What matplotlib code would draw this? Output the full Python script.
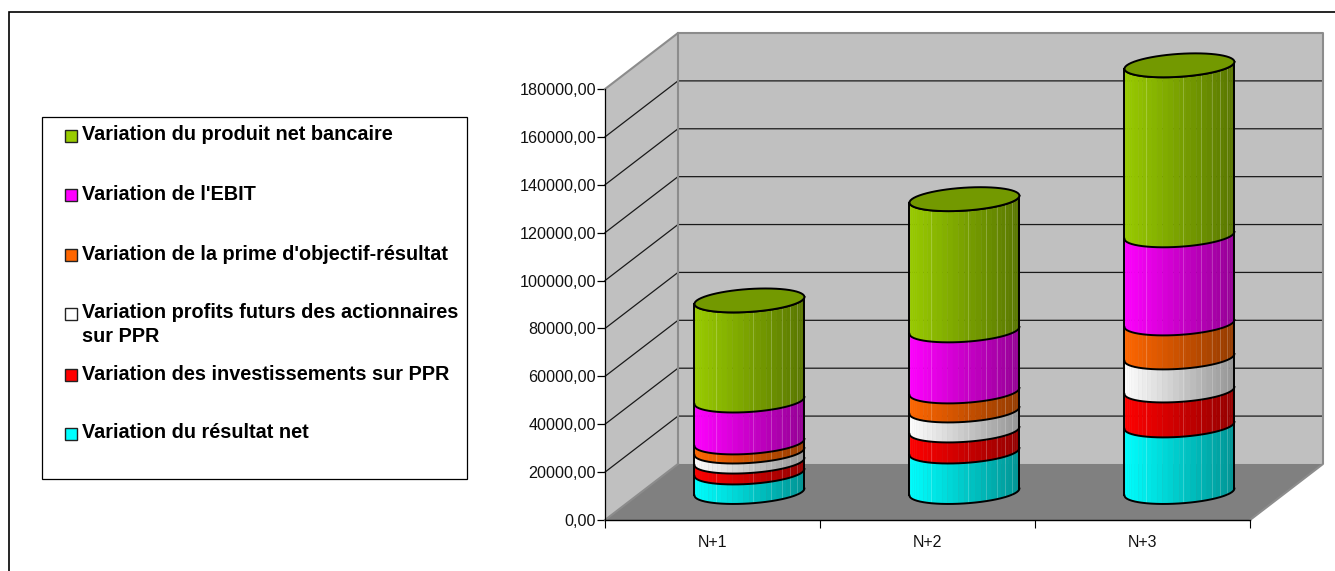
#!/usr/bin/env python3
import numpy as np
import matplotlib
matplotlib.use('Agg')
import matplotlib.pyplot as plt
from matplotlib.patches import Polygon, Rectangle
from matplotlib.ticker import FuncFormatter

plt.rcParams['font.family'] = ['Liberation Sans', 'DejaVu Sans']

categories = ['N+1', 'N+2', 'N+3']
resultat_net = [8150, 16900, 27800]
investissements = [4550, 8800, 14600]
profits_futurs = [4200, 8350, 13800]
prime_objectif = [3800, 7950, 14200]
ebit = [17500, 25500, 36800]
produit_bancaire = [41800, 54800, 71000]
y_ticks = [0, 20000, 40000, 60000, 80000, 100000, 120000, 140000, 160000, 180000]

series = [
    (resultat_net, '#00ffff'),
    (investissements, '#ff0000'),
    (profits_futurs, '#ffffff'),
    (prime_objectif, '#ff6600'),
    (ebit, '#ff00ff'),
    (produit_bancaire, '#99cc00'),
]

legend_labels = [
    "Variation du produit net bancaire",
    "Variation de l'EBIT",
    "Variation de la prime d'objectif-résultat",
    "Variation profits futurs des actionnaires\nsur PPR",
    "Variation des investissements sur PPR",
    "Variation du résultat net",
]
legend_colors = ['#99cc00', '#ff00ff', '#ff6600', '#ffffff', '#ff0000', '#00ffff']
legend_rows = [135, 194, 254, 313, 374, 433]

W, H = 1335, 571
DEPTH_X = 73 / 215
DEPTH_Y = 23400
TOP = 180000

# cylinder ellipse, sheared along the floor depth
RX = 52.6 / 215
SHEAR = 16 / 215
RY = 5000
T0 = np.arctan(SHEAR / RX)


def ring(cx, v, t):
    return cx + RX * np.cos(t) + SHEAR * np.sin(t), v + RY * np.sin(t)


def shade(color, k):
    return tuple(c * k for c in matplotlib.colors.to_rgb(color))


fig = plt.figure(figsize=(W / 100, H / 100), dpi=100)
ax = fig.add_axes([605 / W, 1 - 520 / H, (1323 - 605) / W, (520 - 33) / H])
ax.set_xlim(0, 3 + DEPTH_X)
ax.set_ylim(0, TOP + DEPTH_Y)
ax.patch.set_visible(False)

# walls and floor
ax.add_patch(Polygon([(0, 0), (DEPTH_X, DEPTH_Y), (DEPTH_X, TOP + DEPTH_Y), (0, TOP)],
                     fc='#c0c0c0', ec='none', zorder=1))
ax.add_patch(Rectangle((DEPTH_X, DEPTH_Y), 3, TOP, fc='#c0c0c0', ec='none', zorder=1))
ax.add_patch(Polygon([(0, 0), (3, 0), (3 + DEPTH_X, DEPTH_Y), (DEPTH_X, DEPTH_Y)],
                     fc='#808080', ec='none', zorder=1))

for v in y_ticks[1:-1]:
    ax.plot([0, DEPTH_X, 3 + DEPTH_X], [v, v + DEPTH_Y, v + DEPTH_Y],
            color='#1a1a1a', lw=0.9, zorder=2, clip_on=False)

edge = dict(color='#8c8c8c', lw=1.5, zorder=2, clip_on=False)
ax.plot([0, DEPTH_X, 3 + DEPTH_X, 3 + DEPTH_X, 3],
        [TOP, TOP + DEPTH_Y, TOP + DEPTH_Y, DEPTH_Y, 0], **edge)
ax.plot([DEPTH_X, DEPTH_X], [DEPTH_Y, TOP + DEPTH_Y], **edge)
ax.plot([0, DEPTH_X], [0, DEPTH_Y], **edge)

# stacked cylinders
n = 30
ts = np.linspace(T0 + np.pi, T0 + 2 * np.pi, n + 1)
half_w = np.hypot(RX, SHEAR)
xs_frac = (np.cos(ts) * RX + np.sin(ts) * SHEAR + half_w) / (2 * half_w)
seams = [0.2, 0.53, 0.7, 0.8, 0.87, 0.93]

for i, name in enumerate(categories):
    cx = i + 0.5 + DEPTH_X / 2 + 0.002
    base = DEPTH_Y / 2
    bottom = base
    for values, color in series:
        top = bottom + values[i]
        for j in range(n):
            k = 1.0 - 0.42 * 0.5 * (xs_frac[j] + xs_frac[j + 1])
            x0, y0 = ring(cx, bottom, ts[j:j + 2])
            x1, y1 = ring(cx, top, ts[j:j + 2])
            ax.add_patch(Polygon([(x0[0], y0[0]), (x0[1], y0[1]), (x1[1], y1[1]), (x1[0], y1[0])],
                                 fc=shade(color, k), ec=shade(color, k), lw=0.3, zorder=3))
        for s in seams:
            sx = cx - half_w + 2 * half_w * s
            t_s = np.interp(s, xs_frac, ts)
            _, ya = ring(cx, bottom, t_s)
            _, yb = ring(cx, top, t_s)
            ax.plot([sx, sx], [ya, yb], color='white', alpha=0.22, lw=0.7, zorder=3.5)
        bottom = top

    bottom = base
    x, y = ring(cx, bottom, ts)
    ax.plot(x, y, color='black', lw=1.4, zorder=4)
    for values, color in series:
        bottom += values[i]
        x, y = ring(cx, bottom, ts)
        ax.plot(x, y, color='black', lw=1.4, zorder=4)

    lid = np.linspace(0, 2 * np.pi, 2 * n + 1)
    x, y = ring(cx, bottom, lid)
    ax.add_patch(Polygon(np.column_stack([x, y]), fc=shade(series[-1][1], 0.75),
                         ec='black', lw=1.4, zorder=5))
    for t in (ts[0], ts[-1]):
        xa, ya = ring(cx, base, t)
        xb, yb = ring(cx, bottom, t)
        ax.plot([xa, xb], [ya, yb], color='black', lw=1.4, zorder=4)

# axes
for side in ('top', 'right'):
    ax.spines[side].set_visible(False)
ax.spines['left'].set_bounds(0, TOP)
ax.spines['bottom'].set_bounds(0, 3)
ax.spines['left'].set_linewidth(0.9)
ax.spines['bottom'].set_linewidth(1.0)
ax.spines['left'].set_zorder(6)
ax.spines['bottom'].set_zorder(6)
ax.set_yticks(y_ticks)
ax.yaxis.set_major_formatter(FuncFormatter(lambda v, p: f'{v:.2f}'.replace('.', ',')))
ax.set_xticks([0, 1, 2, 3])
ax.set_xticklabels([])
ax.set_xticks([0.5, 1.5, 2.5], minor=True)
ax.set_xticklabels(categories, minor=True)
ax.tick_params(axis='y', length=5.8, width=0.9, pad=0.6, labelsize=11.6, labelcolor='#111111')
ax.tick_params(axis='x', which='major', length=5.8, width=0.8)
ax.tick_params(axis='x', which='minor', length=0, pad=11, labelsize=11.5, labelcolor='#111111')

# outer frame and legend box, laid out in pixels
ov = fig.add_axes([0, 0, 1, 1], zorder=-1)
ov.set_xlim(0, W)
ov.set_ylim(H, 0)
ov.axis('off')
ov.plot([9, 9, W], [H, 12, 12], color='black', lw=1.2, solid_joinstyle='miter')
ov.add_patch(Rectangle((42, 117), 425, 362, fc='white', ec='black', lw=0.9))
for row, label, color in zip(legend_rows, legend_labels, legend_colors):
    ov.add_patch(Rectangle((64.5, row - 5), 12, 12, fc=color, ec='#222222', lw=1.0))
    for k, line in enumerate(label.split('\n')):
        ov.text(81.5, row + 24 * k, line, fontsize=14.3, fontweight='bold', color='black',
                va='center')

fig.savefig('out.png', dpi=100, facecolor='white')
